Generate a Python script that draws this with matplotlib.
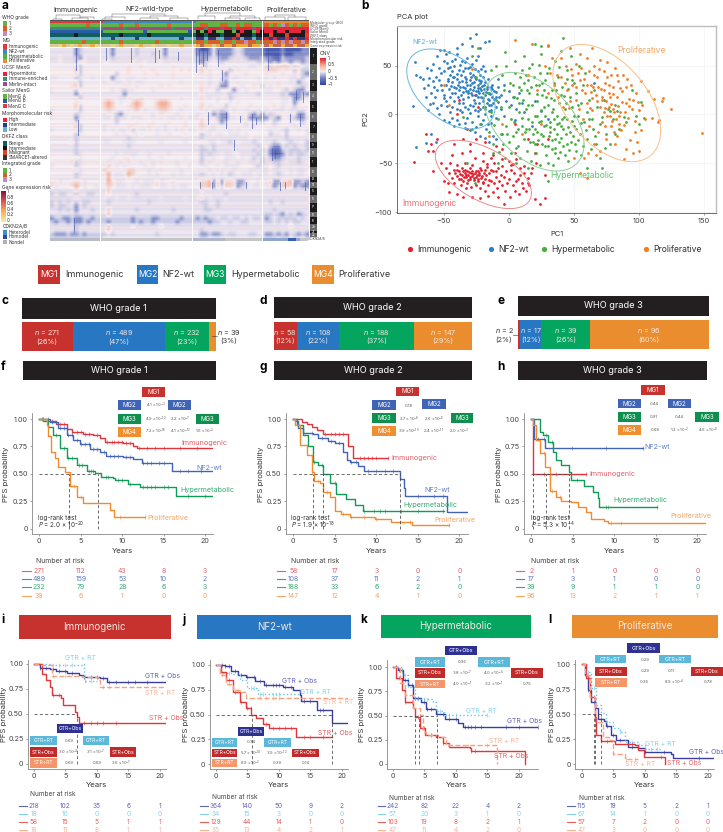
import numpy as np
import matplotlib
matplotlib.use('Agg')
import matplotlib.pyplot as plt
from matplotlib.colors import LinearSegmentedColormap, to_rgb

plt.rcParams['font.family'] = ['Inter', 'DejaVu Sans']
plt.rcParams['mathtext.fontset'] = 'custom'
plt.rcParams['mathtext.rm'] = 'Inter'
plt.rcParams['mathtext.it'] = 'Inter:italic'
plt.rcParams['mathtext.bf'] = 'Inter:bold'
plt.rcParams['mathtext.default'] = 'regular'

W, H = 723, 832

# ---- colours
MG1, MG2, MG3, MG4 = '#c8322e', '#2777c2', '#03a55f', '#ea8d2f'
DARK = '#231f20'
KM_COL = ['#e2343c', '#4264b6', '#0f9c56', '#f38b2e']
KM_TXT = ['#e4606a', '#5f7cc4', '#35ac72', '#f4a662']
TR_COL = ['#3a3ea2', '#66c6e4', '#e1373b', '#f6a27e']
TR_TXT = ['#6265b4', '#86d2ea', '#e8605f', '#f8b498']
TR_LS = ['-', ':', '-', '--']

# ---- panel a: rows of the CNV heatmap read by eye, one letter per cell
cnv_levels = {'.': 0.0, ',': -0.05, 'l': -0.16, 'b': -0.42, 'B': -0.8, 'p': 0.08, 'r': 0.2, 'R': 0.42}
cnv_rows = [
    ",,,,,,bl,,,,, ,,b,,,,,l,,,,,,b,,,,,,, bBBb,bbbbl,lbbbbb BBBBbBBBBbb",
    ",,,,,,bl,,,,, ,,b,,,,,l,,,l,,b,,,,,,, bbbb,bbbbl,lbbbbb BBBBbBBbbbb",
    ",,.,,,lb.,,,, ,,l,,,,,,,,,,,,l,,,,,,, lbbl,lbbl,,,lbbbl bbBBlbbbbbl",
    ",,.,,,lp.,,,, ..,,,,,.,,.,,,.,,,,,,,, lbl,.,l,,,,,,,,ll lblbllbllbl",
    "......pl..... ......p..p.......p...... plp.....p...,,.. rrprrrprp.,",
    "......rl..... ......p.....p......p.p.. r.,..p.l,p...... prrp.p.l.ll",
    "......pl..... ...l..p...p..p...p...... p.,..pb....,.... p...p..,.lb",
    ",,....l,..,., ..b,..,,..,......p...... ,.,..,l.,,....,. ,.,...,,.l.",
    "......pl..... ,..,,.,.,,.........p.... p.,..lb..p...... ...p..,.b,.",
    ".....prl..... .....pp.p.....p.p....... p.,.,bb...,..p.l .,.p...,,l,",
    ",.....lp..... ..,.,l,,....,........... r,..l...b,.,.... ,,..,l.lbb.",
    ",,,,,,b,,,,,, ,,,,,b,,,,,,,,,,,,,,,,,, p,,,,,,l,,,,,,l, ,,,,l,bbblb",
    "......pl..... ....,,p..p.........p.... p.,.,.pl,....... ....,,.bb,.",
    "......pp..... rRr.,.,rRr...rRRr....... p...,..,.p...... .p..,,.b,..",
    "......rl..... rRr...prRr...rRRr...p... r.,..pl.....,... ..p.,..l...",
    ",.....pl..... prp...,pr.,..prrp..,.... p,.,,l,.,..,..,. ,.,,,.,,,,.",
    "......l,..... ,..lb,......,.p...,...., ,..blbb.....lb,b ,l,...,.bb.",
    ",.....b,..... ,,.l,,.,,,..,.,.,,.,.,,, p.,.lbb,,.,.bbbb b,lb..,lbb,",
    ".....pl...... ...l....p...p...p...p... r...,b,....,..,l ..l,..,..l.",
    "......rl..... ,.....pp...p...,....p... rp.,.......,.p.. ..,....,...",
    ",.....pl..... ,.,.,,pl.,,p.,.,..,p.,,. p.,,...,.,...... .,..,l..,.,",
    "......l,..... ...,.,..,p...,..,...p... l,,.,,.,,,.,.... .l,,.l....,",
    ",,,,,,l,,,,,, ,,,,,,l,,,,,,,,,,,,,,,,, l,,,,,,,,,,,.,,, ,,,,,l,,,,,",
    ".....pl..... .,,...,,,......,.....,... p.,,.,,l,.,,,l,. ,,l,.,l,,.l",
    ",,,,,,l,,,,,, ,,,,,,l,,,,,,,,,,,,,,,,, l,,l,,,,,,,,,,l, .lbb,l,l,,l",
    ",,,,,,l,,,,,, ,,,,,,,,,,,,,,,,,,,,,,,, ll,l,,,,.,,,,l,l ,bBBl,lll,l",
    "......l,..... ...,.,,,,..,....,....... l,l,,.,,..,,,,l, ,bBBb,l,ll,",
    "......p,..... ..,..pp,...,..,.....,... l,.,..,,,.,.,l,l ,lbbl,,,l,,",
    ".....pl,..... .,..,.p..,..,.p...,..... l.,...,..,..,,.l ,,ll,.,,l,.",
    ",.....l,..... ,r.,.,,...,.,.....,..,.. ,,..,.,,,,...,l, ,.,l,,,,,,,",
    "......p,.... .r.....rr...,..p....,.... p.,.p,..,...,,., ,.,,..,.,,.",
    "......l,..... ,R.,,.Rr...,.,...,.,..,, l,.,.,.l,.,,,.,, ,.,l,.,.,,.",
    ",,,,,,l,,,,,, .R,,,,p,,,,,,,,,,,,,,,,, ,,,,,,,,,,,,,,,, ,,,,,,,,,,,",
    "pp,..prp,.... .Rp,,...,.,,,p,..p...... rrRbrbrrpbb,..,p ,rbbrrRbblb",
    "p,...pRp,..,. .rp,,,.,.,,,.p,,.,.,,... rrRbrlrrpbl,.,,p ,,blrrrblbb",
    ",,,,,,p,,,,,, ,r,,,,,,,,,,,,,,,,,,,,,, p,,,,,,,,,,,,,,, ,,,,,,,,,,,",
    "l,ll,,l,,ll,, ,p,,,,,,l,,,,,,,,,,,,,,, ,,,,,,l,,,,,,,,, ,,,,,,,,,,,",
    ",,,,,,p,,,,,, .,,.,,.,,,,,,,.,,,,,.,,. p,.,,,.,,,,,,,,, ,,,,,,,,,,,",
    "l,l,l,l,ll,,, ,l,,,,,,,,,l,,,,,,,,,,,, ll,,l,,,,,,,,,,, ,l,,l,,,,,,",
    "l,ll,,b,l,,,, ,,,,,,,,,,,,,,,,,,,,,,,, ,l,,l,,,,,,,,,,, ,,,,,,,,,,,",
    ",,l,l,b,,,l,, ,r,,,,,,l,,,,,,,,l,,,,,, ,ll,,,,,,,,,,,,, ,,l,,,,,,,,",
    ",,,,,,l,,,,,, ,r,,,,,,,,,,,,,,,,,,,,,, ,,,,,,,,,,,,,,,, ll,lb,l,bl,",
    "bllbblbbllbll lllllllbllllbblllllblllb lbll,ll,ll,l,ll, bl,lllll,l,",
    "lbllblbblblll lblllllblbllblllllblllll llbll,,l,,ll,,,, ll,l,l,ll,,",
    ",,,,,,l,,,,,, ,r,,,,,p,,,,,,p,,,,,,,,, ,,,,,,,,,,,,,,,, ,,,,,,p,,,,",
    ",,,,,,l,,,,,, ,r,,,,,,,,,,,,,,,,,,,,,, l,,,,,,,,,,,,,,, ,,,,,,,,,,,",
    "lbbblbblbllll l,l,,,,,,,,,,l,,,,,,,,,, bblbbl,ll,,,ll,, bblblb,lblb",
    "lllllllllllll ,,,,,,,,,,,,,,,,,,,,,,,, ll,,,,,,,,,,,,,, lll,ll,l,,l",
]
# thin stripes seen in the heatmap: y of pale red rows, y of lavender rows, then (x, y0, y1) of blue streaks
stripe_red_y = [56.5, 62, 70, 75, 84, 88, 96, 107, 113, 119, 127, 137, 145, 152, 160, 164, 171, 179, 185, 192, 199, 206, 229]
stripe_lav_y = [52, 59, 67, 78, 82, 93, 99, 110, 116, 124, 130, 140, 150, 155, 162, 169, 175, 183, 190, 197, 201, 209, 215, 226, 235]
streaks = [(196, 48, 72), (199, 50, 64), (203, 48, 66), (207, 48, 60), (218, 50, 66), (222, 70, 80), (226, 112, 128), (208, 112, 124),
           (234, 140, 150), (240, 116, 122), (246, 182, 188), (252, 114, 128), (256, 118, 124), (268, 48, 70), (272, 148, 160), (275, 150, 158),
           (280, 182, 190), (285, 182, 188), (290, 114, 122), (296, 90, 100), (300, 114, 126), (303, 92, 102), (305, 182, 190), (200, 182, 188),
           (212, 182, 188), (178, 52, 60), (131, 48, 62), (155, 48, 62), (159, 50, 58), (106, 48, 60), (76, 48, 70), (78, 120, 135), (74, 218, 232)]

# annotation tracks over the heatmap
track_cols = {'a': '#e2363c', 'c': '#3b87c8', 'g': '#63b246', 'o': '#ee8a2e', 'd': '#d4612a',
              'm': '#c08cc0', 't': '#3c8c78', 'p': '#a04a8c', 'h': '#e8243c', 'B': '#2a5aa8',
              'T': '#0f5f5f', 'k': '#1a1a1a', 'R': '#d8432a', 'L': '#6baed6', 'N': '#2a3a8c',
              'y': '#e9d48a', 'O': '#f0a848', 'D': '#bf6a50', 'w': '#d9c9a0'}
track_mg = "aaaaaaaaaaaaa ccccccccccccccccccccccc ggggggggggggggggg ooooooooooo"
track_who = "gggggggggdggg ggggdgggdgggggggdgggggg gddgggddggdgddggg dgdgmdgdgdd"
track_ucsf = "ttttttttttttt ppppptppppppppppptppppp hhthhhphhthhhhphh hhhhhhhhhhh"
track_sailor = "BBBBBBBBBBBBB ggggggggggBggggggggggBg kgkhkggkkgkhkkghk hhkhhkhhhkh"
track_dkfz = "TTTTTTkTTTTTT TTTTkTTTTTTkTTTTTTTTTTT kkTkkkTkkkRkkkTkk kRkkkRkkkkR"
track_risk = "LLLLLLLLLLLLL LLNLLLLLNLLLLLLLLLLNLLL NNLNNLLNNhNLNNLNN hNhNNhNhNNh"
track_int = "ggggggggdgggg ggggdggggggggdggggggggg ddgdddgddgddmddgd ddmdmdmddmd"
track_expr = "wwyOwywOwwOyw wwywOwwwyOwwywwwywwOwwy ODOOwODOODOOODOOw DODDODDODDO"
track_rows = [track_mg, track_who, track_ucsf, track_sailor, track_dkfz, track_risk, track_int, track_expr]
track_names = ['Molecular group (MG)', 'WHO grade', 'UCSF MenG', 'Sailor MenG', 'DKFZ class',
               'Morphomolecular risk', 'Integrated grade', 'Gene expression risk']

chrom_edges = [48, 64, 80, 91, 101, 112, 122, 133, 142, 148, 157, 167, 177, 182, 188, 195, 203, 212, 217, 224, 231, 233, 237]

# left hand legends of panel a: title, title y, labels, label y, colours
legend_titles = ['WHO grade', 'MG', 'UCSF MenG', 'Sailor MenG', 'Morphomolecular risk', 'DKFZ class', 'Integrated grade', 'CDKN2A/B']
legend_title_y = [17.5, 40, 67.3, 90, 113.7, 136.7, 164, 226.3]
legend_labels = [['1', '2', '3'], ['Immunogenic', 'NF2-wt', 'Hypermetabolic', 'Proliferative'],
                 ['Hypermitotic', 'Immune-enriched', 'Merlin-intact'], ['MenG A', 'MenG B', 'MenG C'],
                 ['High', 'Intermediate', 'Low'], ['Benign', 'Intermediate', 'Malignant', 'SMARCE1-altered'],
                 ['1', '2', '3'], ['Heterodel', 'Homodel', 'Nondel']]
legend_y = [[23.3, 28.3, 33.3], [46.7, 51.7, 56.3, 61], [74, 79, 84], [96.3, 101, 106],
            [120, 125, 129.7], [143.3, 148, 152.7, 157.3], [170.3, 175, 179.7], [232.3, 237, 242]]
legend_cols = [['#63b246', '#d4612a', '#c08cc0'], ['#e2363c', '#3b87c8', '#4dae4a', '#ee8a2e'],
               ['#e8243c', '#3c8c78', '#a04a8c'], ['#63b246', '#2a5aa8', '#e63946'],
               ['#e8243c', '#2a3a8c', '#6baed6'], ['#0f5f5f', '#111111', '#d8432a', '#333333'],
               ['#63b246', '#d4612a', '#c08cc0'], ['#3b8fd0', '#2a4aa8', '#b0b0b0']]

# ---- panel b: PCA points read by eye
pca_nf2 = [(-63,48),(-60,45),(-58,52),(-55,60),(-54,48),(-52,42),(-50,55),(-48,62),(-47,47),(-45,40),(-44,55),(-42,50),(-40,62),(-38,45),(-36,55),(-34,48),(-32,58),(-30,42),(-28,52),(-26,46),(-24,60),(-22,40),(-20,50),(-18,44),(-16,36),(-14,28),
           (-30,78),(-25,82),(-18,74),(-15,75),(-28,70),(-22,68),(-36,72),(-40,68),(-72,54),(-68,38),(-71,40),(-50,66),(-46,64),(-53,66),
           (-48,30),(-46,26),(-44,33),(-42,28),(-41,22),(-40,36),(-39,30),(-38,25),(-37,20),(-36,34),(-35,28),(-34,38),(-33,24),(-32,30),(-31,18),(-30,35),(-30,26),(-29,22),(-28,32),(-27,15),(-27,28),(-26,38),(-25,24),(-24,30),(-24,18),(-23,12),(-22,27),(-21,34),(-20,22),(-20,14),(-19,30),(-18,8),(-18,20),(-17,26),(-16,16),(-15,10),(-15,22),(-14,4),(-13,18),(-12,12),(-11,24),(-10,8),(-10,18),
           (-52,30),(-55,25),(-50,20),(-48,14),(-45,18),(-44,8),(-42,14),(-40,6),(-38,12),(-36,2),(-34,8),(-32,-4),(-30,10),(-28,-8),(-26,4),(-24,-2),(-22,6),(-20,-6),(-18,0),(-16,-10),(-14,-2),(-60,22),(-64,18),(-58,12),(-62,4),(-52,10),(-54,0),(-50,-6),(-46,-8),(-42,-12),(-38,-10),(-34,-14),(-30,-16),(-26,-18),(-22,-22),(-18,-24),(-66,36),(-62,30),(-58,34),(-56,38),(-74,9),(-60,-20),(-56,-28),(-71,-33),(-64,-29),
           (-8,28),(-6,20),(-4,30),(-2,14),(0,24),(2,10),(4,18),(6,6),(8,22),(10,12),(12,2),(-6,6),(-10,-4),(-8,36),(-4,-2),(5,-6),(-12,-22),(-5,-20),(-15,-28),(-10,-25),(30,-5),(20,14),(18,-12),(25,3),(66,32),
           (-43,38),(-37,40),(-33,33),(-29,38),(-25,36),(-23,22),(-21,18),(-19,26),(-17,12),(-13,26),(-47,36),(-44,22),(-39,18),(-35,16),(-31,24),(-28,20),(-26,12),(-24,24),(-22,32),(-20,38),
           (-46.5,34.5),(-44.5,29.5),(-42.5,38.5),(-40.5,26.5),(-38.5,33.5),(-37.5,28.5),(-35.5,22.5),(-33.5,27.5),(-32.5,36.5),(-31.5,21.5),(-29.5,30.5),(-27.5,24.5),(-26.5,33.5),(-25.5,19.5),(-23.5,26.5),(-22.5,35.5),(-21.5,24.5),(-20.5,29.5),(-19.5,16.5),(-18.5,33.5),(-17.5,22.5),(-16.5,28.5),(-15.5,14.5),(-14.5,20.5),(-13.5,9.5),(-12.5,30.5),(-11.5,15.5),(-9.5,22.5),(-8.5,12.5),(-7.5,17.5),(-49.5,44.5),(-47.5,52.5),(-45.5,48.5),(-43.5,44.5),(-41.5,56.5),(-39.5,41.5),(-37.5,50.5),(-35.5,44.5),(-33.5,53.5),(-31.5,47.5),(-29.5,48.5),(-27.5,40.5),(-25.5,55.5),(-23.5,44.5),(-21.5,46.5),(-53.5,35.5),(-51.5,24.5),(-49.5,16.5),(-47.5,8.5),(-45.5,2.5),(-43.5,-3.5),(-39.5,-5.5),(-37.5,4.5),(-35.5,11.5),(-33.5,-8.5),(-31.5,5.5),(-29.5,1.5),(-27.5,8.5),(-25.5,-12.5),(-23.5,3.5),(-21.5,-9.5),(-19.5,7.5),(-17.5,-14.5),(-15.5,3.5),(-13.5,-8.5),(-56.5,17.5),(-60.5,10.5),(-57.5,28.5),(-61.5,37.5),(-65.5,26.5),(-55.5,6.5)]
pca_imm = [(-48,-55),(-46,-60),(-45,-50),(-44,-65),(-42,-57),(-42,-70),(-40,-52),(-40,-63),(-38,-66),(-38,-58),(-37,-72),(-36,-55),(-36,-62),(-35,-68),(-34,-60),(-34,-50),(-33,-64),(-32,-58),(-32,-70),(-31,-62),(-30,-66),(-30,-55),(-29,-60),(-29,-74),(-28,-63),(-28,-52),(-27,-67),(-26,-60),(-26,-45),(-25,-64),(-25,-72),(-24,-58),(-24,-68),(-23,-62),(-22,-55),(-22,-75),(-21,-65),(-20,-48),(-20,-70),(-19,-60),(-18,-66),(-18,-78),(-17,-54),(-16,-72),(-15,-60),(-14,-45),(-14,-68),(-12,-80),(-12,-58),(-11,-50),(-10,-64),(-9,-75),(-8,-55),(-8,-85),(-6,-62),(-5,-46),(-5,-72),(-4,-92),(-3,-78),(-2,-58),(0,-66),(0,-48),(1,-85),(2,-52),(3,-72),(4,-60),(5,-78),(6,-46),(7,-66),(8,-82),(9,-55),(10,-70),(11,-75),(12,-60),(13,-78),(15,-65),(16,-72),(17,-60),(18,-55),(20,-87),(24,-92),(28,-86),(21,-50),
           (-73,-49),(-58,-58),(-52,-50),(-50,-68),(-46,-80),(-40,-82),(-35,-85),(-28,-85),(-22,-86),(-58,-37),(-62,-37),(-60,-30),(-64,-20),(-55,-25),(-42,-30),(-35,-25),(-25,-25),(-18,-28),(-10,-32),(-30,-30),(-5,-35),(5,-40),(15,-25),(22,-30),(-12,-42),(-26,20),(-40,0),(-38,15),(-24,8),(-32,-15),(-30,-38),(-20,-40),(28,-62),(-44,-42),(-36,-40),(-47,-70),(-33,-75),(-16,-84),(30,-25),(5,-10),(20,-40),
           (-41.5,-60.5),(-39.5,-56.5),(-37.5,-61.5),(-36.5,-66.5),(-35.5,-58.5),(-34.5,-64.5),(-33.5,-56.5),(-32.5,-62.5),(-31.5,-67.5),(-30.5,-59.5),(-29.5,-64.5),(-28.5,-57.5),(-27.5,-61.5),(-26.5,-65.5),(-25.5,-58.5),(-24.5,-62.5),(-23.5,-66.5),(-22.5,-60.5),(-21.5,-56.5),(-20.5,-63.5),(-19.5,-69.5),(-18.5,-56.5),(-17.5,-62.5),(-16.5,-50.5),(-15.5,-67.5),(-13.5,-56.5),(-11.5,-70.5),(-9.5,-58.5),(-7.5,-68.5),(-5.5,-52.5),(-3.5,-64.5),(-1.5,-70.5),(1.5,-56.5),(3.5,-50.5),(5.5,-68.5),(8.5,-62.5),(11.5,-52.5),(14.5,-70.5)]
pca_hyp = [(-22,-10),(-18,5),(-15,-18),(-12,-30),(-10,15),(-8,-5),(-6,-20),(-5,40),(-4,25),(-2,-12),(-2,50),(0,-28),(0,8),(1,32),(2,-40),(3,18),(4,-8),(5,55),(6,-18),(7,-32),(8,28),(8,2),(9,-45),(10,45),(10,-12),(11,15),(12,-25),(12,60),(13,5),(14,-38),(15,35),(15,-5),(16,22),(16,-15),(17,-48),(18,52),(18,10),(19,-28),(20,72),(20,-2),(21,30),(21,-40),(22,14),(22,-18),(23,-8),(24,42),(24,-52),(25,4),(25,62),(26,-30),(26,20),(27,-12),(28,35),(28,-2),(29,-42),(30,10),(30,70),(31,-22),(31,48),(32,-8),(33,25),(33,-35),(34,-52),(34,5),(35,15),(35,-15),(36,55),(36,-25),(37,-2),(38,38),(38,-45),(39,12),(40,-12),(40,65),(41,28),(42,-32),(42,78),(43,5),(44,-20),(45,45),(45,-5),(46,-48),(47,18),(48,-28),(48,60),(49,8),(50,-12),(50,32),(52,-38),(52,22),(53,-2),(54,50),(55,-20),(56,12),(56,-42),(57,30),(58,-8),(59,42),(60,-25),(60,2),(62,15),(63,-35),(64,-5),(65,-15),(66,25),(67,-30),(68,8),(70,-45),(70,-10),(72,-55),(73,15),(75,-20),(78,3),(78,-30),(80,-5),(82,10),(85,-15),(90,-8),(95,25),(98,-2),(100,-10),(102,13),(104,-4),
           (-16,22),(-14,45),(-12,-40),(-10,50),(-8,-50),(-6,8),(-3,-45),(3,30),(5,42),(6,-50),(8,12),(9,38),(13,-15),(14,25),(15,-55),(16,48),(18,-8),(20,-30),(22,-2),(23,30),(25,-20),(27,8),(28,-32),(29,18),(30,-50),(32,-18),(33,2),(35,32),(36,-40),(37,-10),(39,-28),(40,20),(41,-5),(43,-42),(44,12),(46,26),(47,-18),(49,35),(50,-2),(51,-30),(53,10),(-25,38),(-28,60),(-24,68),(-32,-50),(-26,-70),(-28,-15),(-35,-3),(30,-68),(-3,64),(25,70),(60,-55),
           (10.5,-3.5),(12.5,-18.5),(14.5,9.5),(16.5,-28.5),(18.5,-20.5),(20.5,-14.5),(22.5,-26.5),(24.5,-6.5),(26.5,-22.5),(28.5,-10.5),(30.5,-32.5),(31.5,-12.5),(33.5,-26.5),(34.5,-4.5),(35.5,-34.5),(37.5,-20.5),(38.5,-8.5),(39.5,-38.5),(40.5,-24.5),(41.5,-14.5),(42.5,-2.5),(44.5,-30.5),(45.5,-12.5),(46.5,-36.5),(48.5,-6.5),(49.5,-22.5),(51.5,-14.5),(53.5,-26.5),(55.5,-8.5),(57.5,-32.5),(59.5,-16.5),(61.5,-4.5),(6.5,16.5),(9.5,24.5),(11.5,32.5),(13.5,40.5),(17.5,28.5),(19.5,38.5),(21.5,20.5),(23.5,50.5),(25.5,32.5),(27.5,24.5),(29.5,42.5),(32.5,16.5),(34.5,30.5),(36.5,24.5),(38.5,48.5),(42.5,18.5),(44.5,36.5),(-4.5,-30.5),(-1.5,-20.5),(1.5,-4.5),(3.5,-22.5),(5.5,-34.5),(7.5,-14.5),(-7.5,-38.5),(-13.5,2.5),(-11.5,-10.5),(66.5,-22.5),(71.5,-2.5),(74.5,-34.5),(76.5,5.5),(81.5,-20.5),(83.5,3.5),(88.5,-2.5)]
pca_pro = [(5,76),(18,72),(30,71),(33,58),(40,58),(44,50),(48,46),(52,52),(55,62),(56,48),(58,36),(60,58),(62,44),(63,30),(64,68),(66,50),(67,20),(68,38),(70,56),(70,8),(71,26),(72,-8),(73,44),(74,32),(75,14),(75,-25),(76,54),(77,22),(78,-2),(79,40),(80,6),(80,28),(81,-18),(82,48),(82,-30),(83,18),(84,34),(85,-10),(86,2),(87,24),(88,40),(89,-46),(90,12),(91,36),(92,-4),(93,16),(94,30),(95,6),(96,-40),(97,-18),(98,22),(99,-28),(100,4),(100,-38),(102,34),(103,10),(105,-5),(107,24),(110,-4),(112,16),(115,-8),(116,-6),(118,14),(119,17),(125,6),(149,-19),
           (30,22),(35,30),(38,18),(40,38),(42,8),(45,25),(47,14),(49,40),(50,-45),(52,28),(54,5),(55,35),(57,-5),(58,-45),(59,22),(60,12),(61,-40),(62,-12),(64,4),(65,28),(66,-30),(67,-42),(68,14),(69,-18),(70,-38),(72,18),(73,2),(74,-12),(76,-2),(77,8),(78,18),(79,-12),(81,2),(83,-22),(85,-2),(90,-35),(55,-60),(60,-65),(32,42),(28,50),(-5,-10),(-15,-22),(-28,46),(-46,10),(-50,30),(10,-20),(15,40),(25,-10),(47,68),(37,40),(22,25),
           (60.5,30.5),(63.5,22.5),(65.5,40.5),(68.5,28.5),(69.5,46.5),(71.5,14.5),(73.5,24.5),(74.5,6.5),(75.5,38.5),(77.5,30.5),(78.5,10.5),(79.5,-6.5),(80.5,20.5),(82.5,-4.5),(83.5,40.5),(84.5,8.5),(85.5,26.5),(86.5,-16.5),(87.5,12.5),(88.5,-10.5),(89.5,2.5),(90.5,28.5),(92.5,8.5),(93.5,-26.5),(95.5,14.5),(97.5,-6.5),(99.5,12.5),(101.5,-16.5),(62.5,6.5),(64.5,16.5),(56.5,24.5),(53.5,42.5),(51.5,14.5),(48.5,30.5),(46.5,6.5),(43.5,32.5)]
# ellipse centre x, centre y, half width, half height, correlation
ell_imm = (-19.5, -61.5, 37, 35, -0.55)
ell_nf2 = (-44.5, 26, 34, 41, -0.45)
ell_hyp = (19.5, -7.5, 38.5, 50.5, -0.45)
ell_pro = (75.5, 11.6, 41.5, 60, -0.47)

# ---- panels c-e: patients per group
mg_names = ['Immunogenic', 'NF2-wt', 'Hypermetabolic', 'Proliferative']
grade1_n = [271, 489, 232, 39]
grade1_pct = [26, 47, 23, 3]
grade2_n = [58, 108, 188, 147]
grade2_pct = [12, 22, 37, 29]
grade3_n = [2, 17, 39, 96]
grade3_pct = [2, 12, 26, 60]

# ---- panels f-h: survival curves (years, probability), censor times
f_mg1 = [(0,1),(1,.985),(2,.95),(3.3,.905),(4,.885),(5.3,.86),(6.5,.855),(7.3,.825),(7.9,.787),(10.1,.784),(11.3,.757),(11.8,.738),(21,.738)]
f_mg2 = [(0,1),(1.3,.975),(2.2,.92),(3.3,.855),(4.1,.81),(4.9,.772),(6.1,.726),(7.3,.696),(8.1,.663),(10.1,.653),(11.3,.638),(12.4,.6),(16,.595),(16.01,.523),(21,.523)]
f_mg3 = [(0,1),(.5,.98),(1.1,.93),(1.7,.855),(2.5,.74),(3.3,.64),(4.5,.58),(5.7,.525),(6.7,.51),(7.5,.47),(8.9,.46),(9.1,.44),(10.7,.41),(12,.405),(12.1,.377),(16.5,.377),(16.51,.30),(21,.30)]
f_mg4 = [(0,1),(.9,.945),(1,.845),(1.4,.70),(1.9,.64),(2.2,.565),(3.1,.513),(3.7,.39),(4.6,.286),(5.3,.231),(8.5,.17),(9.05,.11),(12.8,.11)]
f_cens = [[.5,1.5,2.5,3,4,4.5,5,5.5,6,7,8.2,8.8,9,9.5,10,10.5,11,12,13,14,15,17,19],
          [.5,1,1.5,2.5,3,3.5,4,4.5,5,5.5,6,6.5,7,7.8,8.5,9,9.5,10.5,11,12.5,13,13.5,14.5,15,17,18,19.5],
          [.3,1,2,3,3.5,4,4.8,5.2,6,6.2,6.5,8,8.3,9.5,10,11,12.5,13,13.5,14,15,15.5,18,20],
          [.5,4.2,5,9.8,12.8]]
f_p = ['$4.1 \\times 10^{-3}$', '$4.9 \\times 10^{-12}$', '$2.2 \\times 10^{-7}$', '$7.2 \\times 10^{-18}$', '$4.1 \\times 10^{-12}$', '$1.6 \\times 10^{-3}$']
f_risk = [[271, 112, 43, 8, 3], [489, 159, 53, 10, 2], [232, 79, 28, 6, 3], [39, 6, 1, 0, 0]]

g_mg1 = [(0,1),(1,.975),(1.6,.955),(2.2,.95),(2.3,.93),(2.8,.90),(3.6,.86),(6.6,.754),(7.2,.64),(11.4,.64)]
g_mg2 = [(0,1),(.2,.985),(.6,.915),(1.2,.87),(2.4,.86),(3,.83),(4.2,.80),(5,.78),(6,.695),(6.5,.626),(6.8,.605),(7.8,.575),(8.5,.53),(12.8,.453),(13.3,.368),(13.5,.30),(18.5,.15),(21,.15)]
g_mg3 = [(0,1),(.4,.945),(1.2,.855),(1.8,.75),(2.4,.61),(3,.585),(3.6,.495),(4.4,.413),(5.2,.32),(6.4,.27),(7.4,.22),(8.4,.165),(18.1,.165)]
g_mg4 = [(0,1),(.2,.945),(.8,.76),(1.6,.67),(2.2,.52),(2.5,.435),(3.2,.413),(3.6,.337),(4.4,.29),(5,.16),(5.8,.13),(6.8,.103),(9.8,.085),(11.8,.064),(14.3,.03),(18.7,.03)]
g_cens = [[3.8,4.5,5,5.5,6,8,8.5,9,9.5,10,11.4],
          [2.2,3.5,4.5,5.5,7,7.5,9,10,11,12,15,17,18],
          [2.5,3.5,5,8.5,9.7,10.5,11,13,15,18],
          [2.2,3,4,6,7,8.5,10,12.8,14,18.7]]
g_p = ['0.18', '$2.7 \\times 10^{-8}$', '$2.6 \\times 10^{-8}$', '$3.9 \\times 10^{-10}$', '$2.4 \\times 10^{-11}$', '$2.0 \\times 10^{-3}$']
g_risk = [[58, 17, 3, 0, 0], [108, 37, 11, 2, 1], [188, 33, 6, 2, 0], [147, 12, 4, 1, 0]]

h_mg1 = [(0,1),(.2,.5),(6.6,.5)]
h_mg2 = [(0,1),(.3,.82),(1.6,.74),(13.5,.74)]
h_mg3 = [(0,1),(1,.885),(1.4,.85),(2,.79),(2.6,.70),(3,.625),(3.6,.585),(4.2,.58),(4.5,.52),(4.8,.44),(6.4,.39),(7.4,.337),(8,.277),(8.2,.20),(15.2,.20)]
h_mg4 = [(0,1),(.2,.945),(.6,.81),(1,.687),(1.6,.565),(2.3,.343),(3,.29),(3.6,.25),(4.8,.24),(5.6,.2),(6.6,.155),(7.2,.088),(8.8,.07),(9.2,.05),(21,.05)]
h_cens = [[1.5,3,6.6], [.8,1.5,2.6,4.9,9,13.5], [1.8,2.5,5.5,9,9.3,15.2], [1.5,2.5,3.5,9.6,10.8]]
h_p = ['0.44', '0.91', '0.44', '0.68', '$1.2 \\times 10^{-2}$', '$4.6 \\times 10^{-5}$']
h_risk = [[2, 1, 0, 0, 0], [17, 3, 1, 0, 0], [39, 9, 1, 1, 0], [96, 13, 2, 1, 1]]

# ---- panels i-l: survival by treatment (GTR+Obs, GTR+RT, STR+Obs, STR+RT)
i_go = [(0,1),(1,.963),(2.6,.946),(3.6,.933),(5.2,.906),(7.1,.893),(7.9,.866),(10.5,.856),(11.6,.82),(21,.82)]
i_gr = [(0,1),(2.6,.99),(7.6,1),(7.9,.83),(10,.83)]
i_so = [(0,1),(1.3,.90),(2,.84),(2.6,.766),(2.85,.69),(4.4,.655),(4.7,.59),(6.6,.52),(6.9,.47),(7.2,.41),(21,.41)]
i_sr = [(0,1),(.7,.99),(2.85,.88),(7.6,.873),(10.2,.84),(10.5,.766),(21,.766)]
i_cens = [[1,2,3,4,5,6,8,9,10,11,12,13,15,16,18], [3,4,5,6,8.2,9], [3,4,8,9,10,11,13], [3,5,9,11,12]]
i_p = ['0.69', '$3.0 \\times 10^{-4}$', '$3.1 \\times 10^{-7}$', '0.69', '0.69', '$3.6 \\times 10^{-7}$']
i_risk = [[218, 102, 35, 6, 1], [18, 10, 0, 0, 0], [58, 15, 5, 1, 1], [18, 11, 8, 1, 1]]

j_go = [(0,1),(1.4,.987),(2.4,.94),(3.5,.896),(4.8,.873),(6.2,.84),(7.7,.796),(10.7,.78),(12.3,.746),(13.3,.696),(13.6,.635),(16,.55),(18.5,.41),(21,.41)]
j_gr = [(0,1),(.6,.913),(2.7,.906),(3.8,.846),(4.8,.83),(5,.77),(6.7,.705),(13.3,.705)]
j_so = [(0,1),(.85,.93),(1.6,.846),(2.7,.73),(3.8,.63),(4.8,.57),(5.6,.495),(6.4,.46),(7.5,.405),(8.5,.36),(12.8,.27),(18.4,.27)]
j_sr = [(0,1),(.6,.896),(1.6,.81),(2.7,.746),(4,.73),(4.8,.67),(21,.67)]
j_cens = [[1,1.5,2,3,4,5,6,7,8,9,9.5,10,11,12,14,15,16.5,17],
          [1,2,5.5,6,7,7.5,9,9.5,10],
          [2,3,4,5,5.5,8,9,10,11,12,14,15,17],
          [1,2,3,3.5,7,8,9,10]]
j_p = ['0.34', '$5.7 \\times 10^{-14}$', '$3.9 \\times 10^{-12}$', '$8.9 \\times 10^{-2}$', '0.39', '0.14']
j_risk = [[364, 140, 50, 9, 2], [34, 15, 3, 0, 0], [129, 44, 14, 1, 0], [35, 13, 4, 2, 1]]

k_go = [(0,1),(.85,.97),(1.6,.866),(2.4,.815),(3.2,.677),(4.5,.64),(5.3,.564),(6.9,.515),(8.25,.46),(10.4,.426),(11.2,.385),(23,.385)]
k_gr = [(0,1),(1.4,.92),(2.4,.79),(3.5,.67),(6.4,.64),(6.8,.55),(8.1,.505),(15.1,.495)]
k_so = [(0,1),(.6,.883),(1.4,.763),(1.9,.643),(3.2,.574),(3.6,.488),(4.3,.368),(5.1,.3),(6.9,.275),(8,.213),(9,.172),(12.2,.16),(12.5,.137),(21,.137),(21.01,0)]
k_sr = [(0,1),(1.1,.83),(1.9,.71),(3.2,.574),(4.3,.505),(4.8,.333),(5.3,.3),(7.2,.275),(8.5,.196),(16.5,.196),(16.51,0)]
k_cens = [[.5,1,1.5,2,2.5,3,3.5,4,5,5.5,6,7,8,9,10,11.5,12,12.5,13,14,18,20,23],
          [2,3.5,4,5,5.5,7,7.5,8.5,9,10,15],
          [.5,1,2,3,4,5,6,7,8,12.5,13],
          [2,3,6,9,12,15]]
k_p = ['0.95', '$3.8 \\times 10^{-7}$', '$4.0 \\times 10^{-5}$', '$4.0 \\times 10^{-1}$', '$3.2 \\times 10^{-1}$', '0.75']
k_risk = [[242, 82, 22, 4, 2], [57, 20, 3, 1, 0], [103, 19, 8, 2, 1], [47, 11, 4, 2, 0]]

l_go = [(0,1),(.5,.893),(1,.743),(1.5,.627),(2.05,.56),(2.6,.45),(3.6,.437),(3.9,.383),(4.7,.293),(5.5,.243),(7.3,.177),(8.9,.16),(10,.127),(14.2,.1),(14.5,.067),(20.9,.067)]
l_gr = [(0,1),(.7,.927),(1.5,.76),(2.3,.593),(3.1,.51),(3.9,.427),(5,.36),(6,.327),(6.8,.227),(8.9,.193),(10,.15),(12.6,.15)]
l_so = [(0,1),(.7,.86),(1.27,.677),(2.05,.477),(2.3,.293),(3.1,.233),(5.2,.2),(8.4,.193),(8.9,.143),(9.9,.077),(13.2,.077),(13.21,0)]
l_sr = [(0,1),(.5,.893),(1.27,.677),(2.05,.427),(3.4,.277),(4.4,.243),(5,.1),(6.9,.05),(8.9,.05)]
l_cens = [[1,2,3,4,5,6,8,10,13,18.5], [1,2,4,6,8,9,10,11,12], [1,2,4,8,12.5], [1,3,5,7,8.5]]
l_p = ['0.29', '0.29', '0.11', '0.35', '$8.9 \\times 10^{-4}$', '0.78']
l_risk = [[115, 19, 5, 2, 1], [67, 14, 1, 0, 0], [57, 7, 2, 0, 0], [47, 3, 0, 0, 0]]

fig = plt.figure(figsize=(W / 100, H / 100), dpi=100)


def px_axes(x0, y0, x1, y1, z=1):
    return fig.add_axes([x0 / W, 1 - y1 / H, (x1 - x0) / W, (y1 - y0) / H], zorder=z)


ov = fig.add_axes([0, 0, 1, 1], zorder=20)
ov.set_xlim(0, W)
ov.set_ylim(H, 0)
ov.axis('off')


def txt(x, y, s, size=5, color='#333333', ha='left', va='center', **kw):
    ov.text(x, y, s, fontsize=size, color=color, ha=ha, va=va, **kw)


def rect(x0, y0, x1, y1, color, s=None, size=4.6, tc='white', **kw):
    ov.fill([x0, x1, x1, x0], [y0, y0, y1, y1], color=color, lw=0)
    if s:
        txt((x0 + x1) / 2, (y0 + y1) / 2, s, size=size, color=tc, ha='center', **kw)


# panel letters
letters = ['a', 'b', 'c', 'd', 'e', 'f', 'g', 'h', 'i', 'j', 'k', 'l']
letter_x = [2, 361, 1, 259, 497, 1, 259, 497, 1, 182, 360, 548]
letter_y = [6, 6, 301, 301, 301, 367, 367, 367, 620, 620, 620, 620]
for s, lx, ly in zip(letters, letter_x, letter_y):
    txt(lx, ly, s, size=8.5, color='black', fontweight='bold')

# ---- a: heatmap
cnv_cmap = LinearSegmentedColormap.from_list('cnv', ['#2f45a5', '#6f80c4', '#f6eff4', '#f4a68c', '#e8202c'])
grid = []
for row in cnv_rows:
    cells = row.replace(' ', '').ljust(64, ',')[:64]
    grid.append([cnv_levels[c] for c in cells])
ax = px_axes(50, 48, 308, 240)
ax.imshow(np.array(grid), aspect='auto', cmap=cnv_cmap, vmin=-1, vmax=1, interpolation='bilinear')
ax.axis('off')
for y in stripe_red_y:
    ov.plot([50, 308], [y, y], color='#f7c4b4', lw=0.35, alpha=0.7)
for y in stripe_lav_y:
    ov.plot([50, 308], [y, y], color='#c9c4e6', lw=0.35, alpha=0.7)
for x, y0, y1 in streaks:
    ov.plot([x, x], [y0, y1], color='#3f55ad', lw=0.6, alpha=0.8)

tracks = []
for row in track_rows:
    cells = row.replace(' ', '').ljust(64, 'w')[:64]
    tracks.append([to_rgb(track_cols[c]) for c in cells])
ax = px_axes(50, 20.7, 308, 47.3)
ax.imshow(np.array(tracks), aspect='auto', interpolation='nearest')
ax.axis('off')
for i, s in enumerate(track_names):
    txt(310, 22.4 + i * 3.32, s, size=2.3, color='#444444')

# CDKN2A/B strip
rect(50, 237.5, 308, 241, '#c6c6c6')
for x0, x1, c in [(50, 100, '#b8bcc8'), (192, 225, '#aeb6cc'), (262, 300, '#8fa6d0'), (288, 296, '#3b5fb0')]:
    rect(x0, 237.5, x1, 241, c)
txt(309, 239.5, 'CDKN2A/B', size=2.3, color='#444444')

# white gaps between groups and chromosomes
for x in [100, 192, 262]:
    ov.plot([x, x], [20.7, 241], color='white', lw=0.7)
for y in chrom_edges[1:]:
    ov.plot([50, 308], [y, y], color='white', lw=0.25, alpha=0.8)

# chromosome bar
for i in range(len(chrom_edges) - 1):
    c = '#1c1c1c' if i % 2 == 0 else '#6a6a6a'
    rect(309.5, chrom_edges[i], 317, chrom_edges[i + 1], c)
    txt(313.2, (chrom_edges[i] + chrom_edges[i + 1]) / 2, str(i + 1), size=2.2, color='white', ha='center')

# CNV colourbar
txt(320, 53.5, 'CNV', size=3.6)
ax = px_axes(320, 58, 326, 85)
ax.imshow(np.linspace(1, -1, 64).reshape(-1, 1), aspect='auto', cmap=cnv_cmap, vmin=-1, vmax=1)
ax.axis('off')
for lab, ly in zip(['1', '0.5', '0', '\u22120.5', '\u22121'], [58.5, 65, 71.5, 78, 84.5]):
    txt(328, ly, lab, size=3.4)

# group titles and dendrograms
for s, cx, cy in zip(['Immunogenic', 'NF2-wild-type', 'Hypermetabolic', 'Proliferative'], [76, 149, 227, 286], [10, 9.5, 9.5, 9.5]):
    txt(cx, cy, s, size=5.1, ha='center')
dendro = [(56, 80, 15, 18.5, 17), (80, 94, 17, 18, 19), (53, 62, 18.5, 19.5, 19.5), (72, 88, 18, 19.5, 19.5),
          (112, 165, 13.5, 17, 16), (105, 125, 16.5, 19, 18.5), (150, 178, 16, 18, 18), (140, 158, 18, 19.5, 19.5),
          (170, 188, 18, 19.5, 19.5), (102, 112, 18.5, 19.5, 19.5), (205, 240, 13, 16, 16), (198, 215, 16, 18.5, 18.5),
          (230, 255, 16, 18, 18), (225, 240, 18, 19.5, 19.5), (245, 260, 18, 19.5, 19.5), (275, 295, 15, 17, 17),
          (265, 285, 17, 19.5, 19.5), (288, 306, 17, 19.5, 19.5)]
for x0, x1, yt, y0, y1 in dendro:
    ov.plot([x0, x0, x1, x1], [y0, yt, yt, y1], color='#444444', lw=0.3)
ov.plot([50, 308], [19.8, 19.8], color='#333333', lw=0.6)

# left legends
for title, ty, labels, ys, cols in zip(legend_titles, legend_title_y, legend_labels, legend_y, legend_cols):
    txt(2.5, ty, title, size=3.5)
    for lab, ly, c in zip(labels, ys, cols):
        rect(2.7, ly - 2.4, 7.3, ly + 2.4, c)
        txt(8.5, ly, lab, size=3.4)
txt(1.5, 187.3, 'Gene expression risk', size=3.5)
ax = px_axes(1, 190.7, 5.7, 221.7)
expr_cmap = LinearSegmentedColormap.from_list('expr', ['#f7ee9a', '#f5b25a', '#d9584e', '#8a1040'])
ax.imshow(np.linspace(1, 0, 64).reshape(-1, 1), aspect='auto', cmap=expr_cmap)
ax.axis('off')
for lab, ly in zip(['1', '0.8', '0.6', '0.4', '0.2', '0'], [191.7, 197.3, 203.3, 209.3, 215, 220.7]):
    txt(7, ly, lab, size=3.4)

# ---- b: PCA
ax = px_axes(397, 26, 716, 213)
ax.set_xlim(-86, 159.6)
ax.set_ylim(-101, 90.5)
ax.grid(color='#efefef', lw=0.4)
ax.set_axisbelow(True)
for pts, c in zip([pca_imm, pca_nf2, pca_hyp, pca_pro], ['#e32230', '#2f7fc1', '#46ad3f', '#f37c20']):
    arr = np.array(pts)
    ax.scatter(arr[:, 0], arr[:, 1], s=4, color=c, lw=0, zorder=3)
for ell, c in zip([ell_imm, ell_nf2, ell_hyp, ell_pro], ['#ee8a8a', '#66b8e0', '#90d098', '#f8c088']):
    cx, cy, a, b, r = ell
    t = np.linspace(0, 2 * np.pi, 200)
    ax.plot(cx + a * np.cos(t), cy + b * np.cos(t - np.arccos(r)), color=c, lw=0.7, zorder=4)
ax.set_xticks([-50, 0, 50, 100, 150])
ax.set_yticks([-100, -50, 0, 50])
ax.set_xticklabels(['\u221250', '0', '50', '100', '150'])
ax.set_yticklabels(['\u2212100', '\u221250', '0', '50'])
ax.tick_params(labelsize=5.4, length=1.5, width=0.4, pad=2, color='#555555', labelcolor='#444444')
for s in ax.spines.values():
    s.set_color('#bdbdbd')
    s.set_linewidth(1.0)
ax.spines['left'].set_color('#555555')
ax.spines['bottom'].set_color('#555555')
ax.spines['left'].set_linewidth(0.6)
ax.spines['bottom'].set_linewidth(0.6)
txt(397, 17.3, 'PCA plot', size=5.4)
txt(557, 234.3, 'PC1', size=5.4, ha='center')
txt(365, 119, 'PC2', size=5.4, ha='center', rotation=90)
txt(402.5, 204, 'Immunogenic', size=6.2, color='#ee7078')
txt(412.5, 41.7, 'NF2-wt', size=5, color='#55b0e0')
txt(550.5, 176, 'Hypermetabolic', size=6.2, color='#60c070')
txt(617.5, 50.7, 'Proliferative', size=6.2, color='#f5a868')
for s, lx, c in zip(mg_names, [410, 491, 544, 646], ['#e32230', '#2f7fc1', '#46ad3f', '#f37c20']):
    ov.scatter([lx], [249], s=14, color=c, lw=0)
    txt(lx + 7, 249, s, size=6.2)

# MG key band
for name, tag, c, x0, x1, lx in zip(mg_names, ['MG1', 'MG2', 'MG3', 'MG4'], [MG1, MG2, MG3, MG4], [38.3, 136.7, 204.3, 312.3], [60, 158.3, 226, 334], [65, 162.3, 231, 338.7]):
    rect(x0, 265, x1, 284, c, tag, size=6.2)
    txt(lx, 274.5, name, size=6.5)

# ---- c-e: stacked bars and title bars
NARROW = ['Liberation Sans Narrow', 'Inter', 'DejaVu Sans']
for x0, x1, y0, y1, s in [(21.7, 216, 298, 319, 'WHO grade 1'), (273.7, 472, 297, 318, 'WHO grade 2'), (517.8, 708.7, 296, 316, 'WHO grade 3'),
                          (22.7, 216, 361, 380, 'WHO grade 1'), (274, 472, 361, 380, 'WHO grade 2'), (517.8, 707, 361, 380, 'WHO grade 3')]:
    rect(x0, y0, x1, y1, DARK, s, size=6.6, family=NARROW)

for n, pct, box in [(grade1_n, grade1_pct, (21.7, 322, 216, 351)), (grade2_n, grade2_pct, (273.7, 322, 472, 350)), (grade3_n, grade3_pct, (517.8, 320, 708.7, 349))]:
    ax = px_axes(*box)
    left = 0
    for v, p, c in zip(n, pct, [MG1, MG2, MG3, MG4]):
        ax.barh(0, v, left=left, color=c, height=1, lw=0)
        if v / sum(n) > 0.05:
            ax.text(left + v / 2, 0, '$\\it{n}$ = %d\n(%d%%)' % (v, p), color='#f3e6e0', fontsize=5.2, ha='center', va='center', family=NARROW, linespacing=1.25)
        left += v
    ax.set_xlim(0, sum(n))
    ax.set_ylim(-0.5, 0.5)
    ax.axis('off')
txt(229, 336, '$\\it{n}$ = 39\n(3%)', size=5.2, ha='center', family=NARROW, linespacing=1.25)
ov.plot([212, 217], [336, 336], color='#333333', lw=0.4)
txt(504, 334.5, '$\\it{n}$ = 2\n(2%)', size=5.2, ha='center', family=NARROW, linespacing=1.25)
ov.plot([513, 518], [335, 335], color='#333333', lw=0.4)


def km_panel(curves, cens, cols, styles, spec, xt=(0, 5, 10, 15, 20)):
    x_left, x0, x20, x_right, y_top, y_bottom, y1, y00 = spec
    sx = (x20 - x0) / 20
    sy = y00 - y1
    ax = px_axes(x_left, y_top, x_right, y_bottom, 2)
    ax.set_xlim((x_left - x0) / sx, (x_right - x0) / sx)
    ax.set_ylim((y00 - y_bottom) / sy, (y00 - y_top) / sy)
    ax.patch.set_alpha(0)
    for curve, c, col, ls in zip(curves, cens, cols, styles):
        arr = np.array(curve)
        ax.step(arr[:, 0], arr[:, 1], where='post', color=col, lw=1.0, ls=ls, zorder=3)
        c = np.array(c)
        idx = np.searchsorted(arr[:, 0], c, side='right') - 1
        ax.plot(c, arr[idx, 1], ls='', marker='|', ms=2.6, mew=0.4, color=col, zorder=3)
    ax.set_xticks(list(xt))
    ax.set_yticks([0, .25, .5, .75, 1])
    ax.set_yticklabels(['0', '0.25', '0.50', '0.75', '1.00'])
    ax.tick_params(labelsize=5.2, length=1.5, width=0.4, pad=1.5, color='#555555', labelcolor='#444444')
    for k in ['top', 'right']:
        ax.spines[k].set_visible(False)
    for k in ['left', 'bottom']:
        ax.spines[k].set_color('#888888')
        ax.spines[k].set_linewidth(0.6)
    return ax


def medians(ax, xs, xmax):
    ax.plot([0, xmax], [.5, .5], color='#444444', lw=0.55, ls=(0, (4, 3)), zorder=4)
    for x in xs:
        ax.plot([x, x], [0, .5], color='#444444', lw=0.55, ls=(0, (4, 3)), zorder=4)


def risk_table(rows, ticks_px, cols, line, title_x, title_y, row_y, size=5.0):
    txt(title_x, title_y, 'Number at risk', size=size, color='#444444')
    for r, c, ry in zip(rows, cols, row_y):
        ov.plot(line, [ry, ry], color=c, lw=0.8)
        for v, tx in zip(r, ticks_px):
            txt(tx, ry, str(v), size=size, color=c, ha='center')


def p_table(boxes, tags, colours, p_vals, p_xy, size=3.0, fs=4.4):
    for b, tag, c in zip(boxes, tags, colours):
        rect(b[0], b[1], b[2], b[3], c, tag, size=fs)
    for s, (px, py) in zip(p_vals, p_xy):
        txt(px, py, s, size=size, color='#555555', ha='center')


MG_TAGS = ['MG1', 'MG2', 'MG2', 'MG3', 'MG3', 'MG4']
MG_BOX = [MG1, '#3f63b5', '#3f63b5', '#0f8f4f', '#0f8f4f', '#ef8f30']
TR_TAGS = ['GTR+Obs', 'GTR+RT', 'GTR+RT', 'STR+Obs', 'STR+Obs', 'STR+RT']
TR_BOX = ['#2e3192', '#5bb8d8', '#5bb8d8', '#c02a2a', '#c02a2a', '#f4956a']

# ---- f
ax = km_panel([f_mg1, f_mg2, f_mg3, f_mg4], f_cens, KM_COL, ['-'] * 4, (32, 39.3, 205, 213.3, 413, 534, 419, 528.7))
medians(ax, [3.6, 7.1], 7.1)
p_table([(141.7, 387.3, 165, 396.7), (117.7, 400.3, 141, 410.3), (167.7, 400.3, 190.7, 410.3), (117.7, 414, 141, 424), (196, 414, 219, 424), (117.7, 426.7, 141, 436.7)],
        MG_TAGS, MG_BOX, f_p, [(155.7, 405.7), (155.7, 419), (180, 419), (155.7, 431.7), (180, 431.7), (205, 431.7)])
for s, lx, ly, c in zip(mg_names, [181.7, 196.7, 180.7, 147.3], [443.5, 468, 489.7, 518.3], KM_TXT):
    txt(lx, ly, s, size=5.2, color=c)
txt(37.7, 518, 'log-rank test', size=4.6)
txt(37.7, 525.5, '$\\it{P}$ = 2.0 $\\times$ 10$^{-20}$', size=4.6)
txt(6, 474, 'PFS probability', size=5.6, rotation=90, ha='center')
txt(122.3, 550.7, 'Years', size=5.6, ha='center')
risk_table(f_risk, [39.3, 81, 122.3, 163.7, 205], KM_TXT, [22, 31], 36, 561, [570.7, 579, 587.3, 595.7])

# ---- g
ax = km_panel([g_mg1, g_mg2, g_mg3, g_mg4], g_cens, KM_COL, ['-'] * 4, (285.7, 293.3, 459.3, 467.7, 413, 534, 419, 528.7))
medians(ax, [2.4, 3.6, 12.8], 12.8)
p_table([(396, 386.7, 419.3, 396), (372.3, 400, 395.7, 410), (422.3, 399, 445.7, 409), (372.3, 413.3, 395.7, 423.3), (450.7, 413.3, 473.3, 423.3), (372.3, 426, 395.7, 436)],
        MG_TAGS, MG_BOX, g_p, [(408.5, 405.7), (409, 419), (434, 419), (409, 431.7), (434, 431.7), (459, 431.7)])
for s, lx, ly, c in zip(mg_names, [391, 424.3, 403.3, 434], [458.3, 490, 505.3, 520], KM_TXT):
    txt(lx, ly, s, size=5.2, color=c)
txt(291, 518.3, 'log-rank test', size=4.6)
txt(291, 525.7, '$\\it{P}$ = 1.9 $\\times$ 10$^{-18}$', size=4.6)
txt(260.7, 474, 'PFS probability', size=5.6, rotation=90, ha='center')
txt(376.7, 550.7, 'Years', size=5.6, ha='center')
risk_table(g_risk, [293.3, 335, 376.7, 418, 459.3], KM_TXT, [276.7, 285], 290.7, 561, [570.7, 579, 587.3, 595.7])

# ---- h
ax = km_panel([h_mg1, h_mg2, h_mg3, h_mg4], h_cens, KM_COL, ['-'] * 4, (523.7, 531.3, 697.3, 705.7, 413, 534, 419, 528.7))
medians(ax, [.2, 1.8, 4.6], 4.6)
p_table([(641.3, 385.3, 664.7, 395.3), (618, 399, 641.3, 408.3), (668, 399, 690.7, 408.3), (618, 412.3, 641.3, 421.7), (695.3, 412.3, 718.7, 421.7), (618, 425, 641.3, 435)],
        MG_TAGS, MG_BOX, h_p, [(654.7, 404), (654, 417.3), (679.3, 417.3), (654.7, 430), (679.7, 430), (708, 430)])
for s, lx, ly, c in zip(mg_names, [589, 644.7, 613, 670.7], [473.7, 447, 500.3, 516.3], KM_TXT):
    txt(lx, ly, s, size=5.2, color=c)
txt(530.7, 518.3, 'log-rank test', size=4.6)
txt(530.7, 525.7, '$\\it{P}$ = 5.3 $\\times$ 10$^{-4}$', size=4.6)
txt(498.7, 474, 'PFS probability', size=5.6, rotation=90, ha='center')
txt(614.3, 550.7, 'Years', size=5.6, ha='center')
risk_table(h_risk, [531.3, 572.8, 614.3, 655.8, 697.3], KM_TXT, [516, 524], 530.7, 561, [570.7, 579, 587.3, 595.7])

# ---- i-l title bars
for x0, y0, x1, y1, s, c in [(19, 615, 170.7, 639, 'Immunogenic', MG1), (197, 615, 351, 639, 'NF2-wt', MG2), (380.7, 614.7, 531, 638, 'Hypermetabolic', MG3), (572, 614.7, 718, 638, 'Proliferative', MG4)]:
    rect(x0, y0, x1, y1, c, s, size=7, tc='#f3e8e4')

TR_ROWS = [805.7, 813.7, 821.7, 829.7]
TR_LABELS = ['GTR + Obs', 'GTR + RT', 'STR + Obs', 'STR + RT']

# ---- i
ax = km_panel([i_go, i_gr, i_so, i_sr], i_cens, TR_COL, TR_LS, (27.7, 33.7, 160, 165.7, 660, 769.3, 664, 763.7))
medians(ax, [6.9], 6.9)
p_table([(57, 724, 83.3, 733.3), (30, 736, 56.7, 745.3), (83.3, 736, 109.3, 745.3), (30, 747.3, 56.7, 756.7), (110, 747.3, 136, 756.7), (30, 758.3, 56.7, 767.7)],
        TR_TAGS, TR_BOX, i_p, [(69.3, 740.7), (68.3, 752), (96, 752), (69.3, 763), (97.3, 763), (120.7, 763)], fs=3.6)
for s, lx, ly, c in zip(TR_LABELS, [145, 65.3, 148.7, 145.3], [675.7, 657.7, 718.3, 692.7], TR_TXT):
    txt(lx, ly, s, size=4.9, color=c)
txt(4, 714, 'PFS probability', size=5.6, rotation=90, ha='center')
txt(96.7, 785.3, 'Years', size=5.6, ha='center')
risk_table(i_risk, [33.7, 65.3, 96.7, 128.3, 160], TR_TXT, [19, 27], 30, 793.7, TR_ROWS, size=4.7)

# ---- j
ax = km_panel([j_go, j_gr, j_so, j_sr], j_cens, TR_COL, TR_LS, (209.7, 216, 341.7, 348, 660, 769.3, 664.7, 764.3))
medians(ax, [5.7, 18.5], 18.5)
p_table([(237.7, 727, 264, 736), (212, 738, 237, 746.7), (264, 738, 290.7, 746.7), (212, 748.7, 237, 757.3), (292, 748.7, 318.7, 757.3), (212, 758.7, 237, 766.7)],
        TR_TAGS, TR_BOX, j_p, [(251, 742.3), (250.7, 753), (277.3, 753), (250.7, 763), (277.3, 763), (306.3, 763)], fs=3.6)
for s, lx, ly, c in zip(TR_LABELS, [282, 300, 318, 322.7], [681.3, 692.3, 733.3, 701.7], TR_TXT):
    txt(lx, ly, s, size=4.9, color=c)
txt(186, 714, 'PFS probability', size=5.6, rotation=90, ha='center')
txt(278.7, 785.3, 'Years', size=5.6, ha='center')
risk_table(j_risk, [216, 247.3, 278.7, 310.3, 341.7], TR_TXT, [200, 208], 211.7, 796.7, TR_ROWS, size=4.7)

# ---- k
ax = km_panel([k_go, k_gr, k_so, k_sr], k_cens, TR_COL, TR_LS, (387, 392.7, 518.7, 538, 660, 769.3, 667, 764))
medians(ax, [3.5, 4.1, 7], 7)
p_table([(445, 645.7, 477.3, 655), (414.7, 657.3, 444.7, 666.7), (478, 657.3, 510.3, 666.7), (415.3, 668.3, 444.7, 677.7), (510.7, 668.3, 543, 677.7), (415.3, 680, 444.7, 688.3)],
        TR_TAGS, TR_BOX, k_p, [(462, 662), (462, 673), (493.7, 673), (462, 684), (493.7, 684), (527.3, 684)], fs=3.8)
for s, lx, ly, c in zip(TR_LABELS, [507, 465.7, 494, 488.7], [721.3, 710.7, 755.7, 741.3], TR_TXT):
    txt(lx, ly, s, size=4.9, color=c)
txt(362, 714, 'PFS probability', size=5.6, rotation=90, ha='center')
txt(456, 785.3, 'Years', size=5.6, ha='center')
risk_table(k_risk, [392.7, 424.3, 456, 487.3, 518.7], TR_TXT, [378, 385], 388.7, 797.7, TR_ROWS, size=4.7)

# ---- l
ax = km_panel([l_go, l_gr, l_so, l_sr], l_cens, TR_COL, TR_LS, (575.3, 581.7, 708, 713.7, 660, 769.3, 664.3, 764.3))
medians(ax, [1.9, 2.1, 3.1], 3.1)
p_table([(627.3, 643.3, 659.7, 652.7), (594.7, 655, 626.3, 663.3), (658.7, 655, 690.7, 663.3), (594.7, 666.7, 627, 676), (690.7, 666.7, 723, 676), (594.7, 677.7, 627, 686.7)],
        TR_TAGS, TR_BOX, l_p, [(644.7, 659.7), (644.7, 671), (671.3, 671), (644.7, 682), (674.7, 682), (708, 682)], fs=3.8)
for s, lx, ly, c in zip(TR_LABELS, [689, 644.7, 667.3, 624.7], [752.3, 744, 762.7, 763.7], TR_TXT):
    txt(lx, ly, s, size=4.9, color=c)
txt(552, 714, 'PFS probability', size=5.6, rotation=90, ha='center')
txt(644.7, 785.3, 'Years', size=5.6, ha='center')
risk_table(l_risk, [581.7, 613.3, 644.7, 676.3, 708], TR_TXT, [567, 575], 578.7, 797.7, TR_ROWS, size=4.7)

fig.savefig('out.png', dpi=100)
